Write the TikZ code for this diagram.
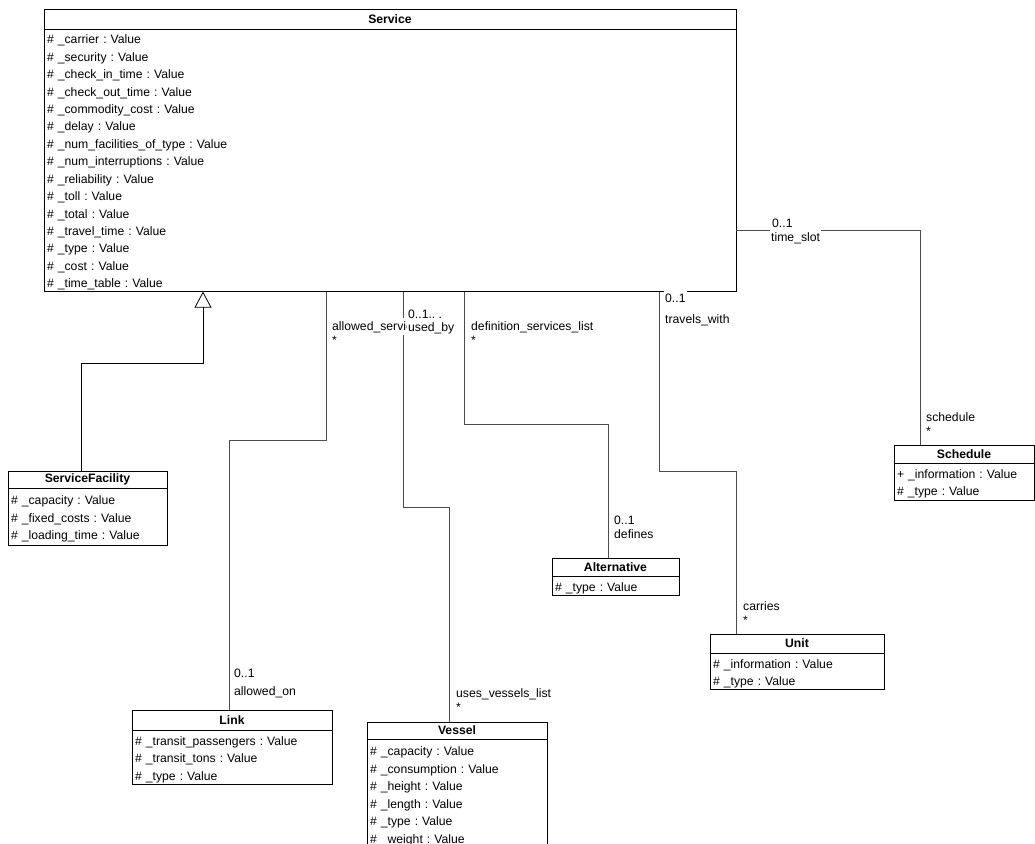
\documentclass[tikz,border=0pt]{standalone}
\usepackage{fontspec}
\setmainfont{Liberation Sans}
\usetikzlibrary{arrows.meta}

\newcommand{\fsz}{\fontsize{12.2}{17.5}\selectfont\frenchspacing}

\tikzset{
	cls/.style={draw, font=\fsz\bfseries, inner sep=0pt, outer sep=0pt, anchor=north west, line width=0.8pt},
	attrs/.style={draw, font=\fsz, align=left, inner xsep=3pt, inner ysep=0pt, outer sep=0pt, anchor=north west, line width=0.8pt,
		execute at begin node={\rule{0pt}{15pt}}, execute at end node={\rule[-4pt]{0pt}{0pt}}},
	lbl/.style={font=\fsz, fill=white, inner xsep=1pt, inner ysep=3pt, anchor=base west},
	assoc/.style={draw=black!70, line width=0.8pt},
	gen/.style={line width=0.8pt, -{Triangle[open, length=16pt, width=17pt]}},
}

\begin{document}
\begin{tikzpicture}[x=1pt, y=-1pt]
		\useasboundingbox (0,0) rectangle (1035,843);
		\clip (0,0) rectangle (1035,843);
		\fill[white] (0,0) rectangle (1035,843);

		% classes
		\node[cls, minimum width=692pt, minimum height=20pt] (service-t) at (44,9) {Service};
		\node[attrs, text width=686pt, minimum height=262pt, font=\fontsize{12.2}{17.4}\selectfont\frenchspacing] (service) at (service-t.south west) {\# \_carrier : Value\\ \# \_security : Value\\ \# \_check\_in\_time : Value\\ \# \_check\_out\_time : Value\\ \# \_commodity\_cost : Value\\ \# \_delay : Value\\ \# \_num\_facilities\_of\_type : Value\\ \# \_num\_interruptions : Value\\ \# \_reliability : Value\\ \# \_toll : Value\\ \# \_total : Value\\ \# \_travel\_time : Value\\ \# \_type : Value\\ \# \_cost : Value\\ \# \_time\_table : Value};

		\node[cls, minimum width=159pt, minimum height=17pt] (facility-t) at (8,471) {ServiceFacility};
		\node[attrs, text width=153pt, minimum height=57pt] (facility) at (facility-t.south west) {\# \_capacity : Value\\ \# \_fixed\_costs : Value\\ \# \_loading\_time : Value};

		\node[cls, minimum width=200pt, minimum height=20pt] (link-t) at (132,710) {Link};
		\node[attrs, text width=194pt, minimum height=54pt] (link) at (link-t.south west) {\# \_transit\_passengers : Value\\ \# \_transit\_tons : Value\\ \# \_type : Value};

		\node[cls, minimum width=180pt, minimum height=17pt] (vessel-t) at (367,722) {Vessel};
		\node[attrs, text width=174pt, minimum height=110pt] (vessel) at (vessel-t.south west) {\# \_capacity : Value\\ \# \_consumption : Value\\ \# \_height : Value\\ \# \_length : Value\\ \# \_type : Value\\ \# \_weight : Value};

		\node[cls, minimum width=127pt, minimum height=18pt] (alt-t) at (552,558) {Alternative};
		\node[attrs, text width=121pt, minimum height=18pt] (alt) at (alt-t.south west) {\# \_type : Value};

		\node[cls, minimum width=174pt, minimum height=19pt] (unit-t) at (710,634) {Unit};
		\node[attrs, text width=168pt, minimum height=36pt] (unit) at (unit-t.south west) {\# \_information : Value\\ \# \_type : Value};

		\node[cls, minimum width=140pt, minimum height=18pt] (sched-t) at (894,445) {Schedule};
		\node[attrs, text width=134pt, minimum height=37pt] (sched) at (sched-t.south west) {+ \_information : Value\\ \# \_type : Value};

		% connectors
		\draw[gen] ([xshift=73pt]facility-t.north west) -- ++(0,-108) -| ([xshift=159pt]service.south west);
		\draw[assoc] ([xshift=282pt]service.south west) -- ++(0,149) -| ([xshift=97pt]link-t.north west);
		\draw[assoc] ([xshift=359pt]service.south west) -- ++(0,216) -| ([xshift=82pt]vessel-t.north west);
		\draw[assoc] ([xshift=420pt]service.south west) -- ++(0,133) -| ([xshift=56pt]alt-t.north west);
		\draw[assoc] ([xshift=615pt]service.south west) -- ++(0,180) -| ([xshift=26pt]unit-t.north west);
		\draw[assoc] ([yshift=-70pt]service.east) -| ([xshift=26pt]sched-t.north west);

		% role names and multiplicities
		\foreach \n/\x/\y/\t in {as-role/331/330/{allowed\_servic}, as-mult/331/344/*,
				ub-mult/407/318/{0..1.. .}, ub-role/407/331/{used\_by},
				ds-role/470/330/{definition\_services\_list}, ds-mult/470/344/*,
				tw-mult/664/302.5/{0..1}, tw-role/664/323/{travels\_with},
				ts-mult/771/227.5/{0..1}, ts-role/770/241.5/{time\_slot},
				sc-role/925/421.5/{schedule}, sc-mult/925/435/*,
				df-mult/613/524.5/{0..1}, df-role/613/538.5/{defines},
				ca-role/742/610.5/{carries}, ca-mult/742/624.5/*,
				uv-role/455/697/{uses\_vessels\_list}, uv-mult/455/711/*,
				ao-mult/233/677.5/{0..1}, ao-role/233/695/{allowed\_on}}
			\node[lbl] (\n) at (\x,\y) {\t};
	\end{tikzpicture}
\end{document}
